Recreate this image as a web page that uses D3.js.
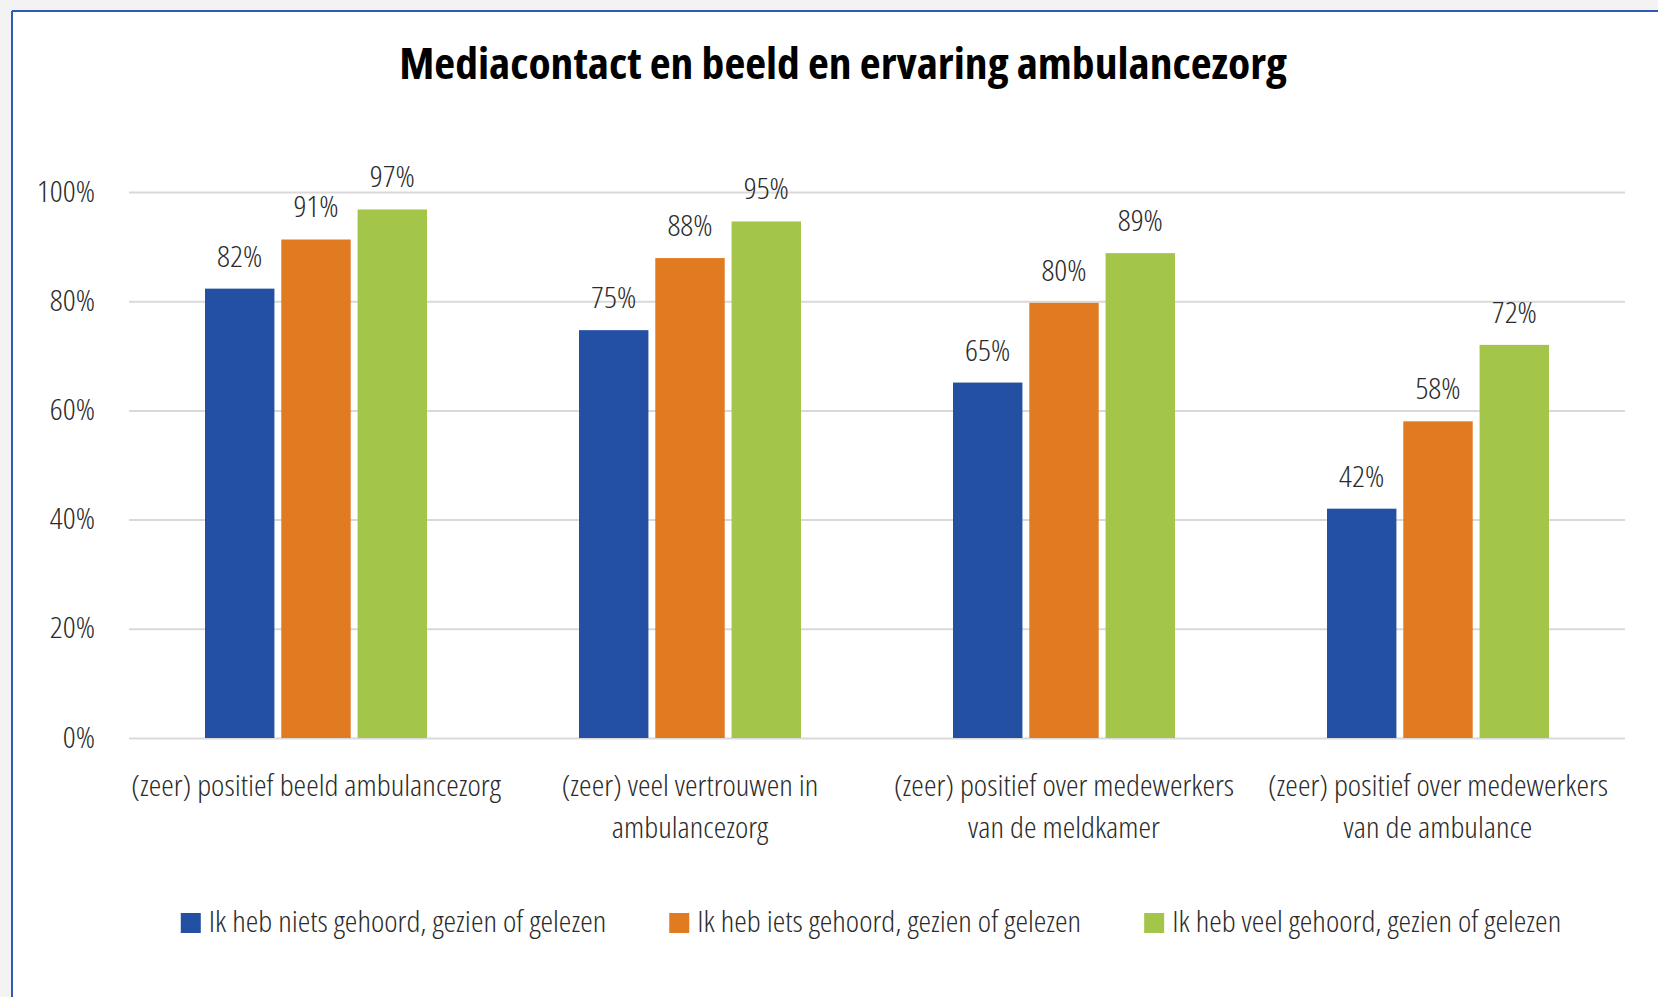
<!DOCTYPE html>
<html>
<head>
<meta charset="utf-8">
<script src="https://cdn.jsdelivr.net/npm/d3@7"></script>
<style>
  html, body { margin: 0; padding: 0; background: #f3f3f3; }
  svg { display: block; }
  text { font-family: "Open Sans", "Noto Sans", sans-serif; font-stretch: 75%; }
</style>
</head>
<body>
<svg id="chart" width="1658" height="997"></svg>
<script>
const title = "Mediacontact en beeld en ervaring ambulancezorg";
const categories = [
  ["(zeer) positief beeld ambulancezorg"],
  ["(zeer) veel vertrouwen in", "ambulancezorg"],
  ["(zeer) positief over medewerkers", "van de meldkamer"],
  ["(zeer) positief over medewerkers", "van de ambulance"]
];
const seriesNames = [
  "Ik heb niets gehoord, gezien of gelezen",
  "Ik heb iets gehoord, gezien of gelezen",
  "Ik heb veel gehoord, gezien of gelezen"
];
// values (labels shown rounded)
const seriesNiets = [82.3, 74.7, 65.1, 42.0];
const seriesIets  = [91.3, 87.9, 79.7, 58.0];
const seriesVeel  = [96.8, 94.6, 88.8, 72.0];
const yTicks = [0, 20, 40, 60, 80, 100];
const colors = ["#2350A3", "#E07B22", "#A2C54A"];

const W = 1658, H = 997;
const svg = d3.select("#chart");
const txtColor = "#2b2b2b";

// white card with blue border
svg.append("rect").attr("x", 12).attr("y", 11).attr("width", W - 12).attr("height", H - 11).attr("fill", "#ffffff");
svg.append("line").attr("x1", 12).attr("x2", W).attr("y1", 11).attr("y2", 11).attr("stroke", "#2f5bb5").attr("stroke-width", 2);
svg.append("line").attr("x1", 12).attr("x2", 12).attr("y1", 11).attr("y2", H).attr("stroke", "#2f5bb5").attr("stroke-width", 2);

const plotLeft = 129, plotRight = 1625, plotTop = 192, plotBottom = 738;

const x0 = d3.scaleBand().domain(d3.range(categories.length)).range([plotLeft, plotRight]).paddingInner(0).paddingOuter(0);
const x1 = d3.scaleBand().domain(d3.range(3)).range([0, 222]).paddingInner(0.09).paddingOuter(0);
const y = d3.scaleLinear().domain([0, 100]).range([plotBottom, plotTop]);

svg.append("text").attr("x", 843).attr("y", 79).attr("text-anchor", "middle")
  .attr("font-size", 43).attr("font-weight", 700).attr("fill", "#000").text(title);

// gridlines + y tick labels
const grid = svg.append("g")
  .call(d3.axisLeft(y).tickValues(yTicks).tickSize(-(plotRight - plotLeft)).tickFormat(d => d + "%"))
  .attr("transform", `translate(${plotLeft},0)`);
grid.select(".domain").remove();
grid.selectAll(".tick line").attr("stroke", "#d9d9d9").attr("stroke-width", 2);
grid.selectAll(".tick text").attr("x", -34).attr("dy", null).attr("y", 9)
  .attr("font-size", 30).attr("font-weight", 300).attr("fill", txtColor);
grid.attr("font-family", null).attr("font-size", null);

const data = categories.map((c, i) => ({ i, values: [seriesNiets[i], seriesIets[i], seriesVeel[i]] }));

const groups = svg.append("g").selectAll("g").data(data).join("g")
  .attr("transform", d => `translate(${x0(d.i) + (x0.bandwidth() - 222) / 2},0)`);

groups.selectAll("rect").data(d => d.values.map((v, k) => ({ v, k }))).join("rect")
  .attr("x", d => x1(d.k)).attr("width", x1.bandwidth())
  .attr("y", d => y(d.v)).attr("height", d => y(0) - y(d.v))
  .attr("fill", d => colors[d.k]);

groups.selectAll("text.lbl").data(d => d.values.map((v, k) => ({ v, k }))).join("text")
  .attr("class", "lbl")
  .attr("x", d => x1(d.k) + x1.bandwidth() / 2).attr("y", d => y(d.v) - 22)
  .attr("text-anchor", "middle").attr("font-size", 30).attr("font-weight", 300).attr("fill", txtColor)
  .text(d => Math.round(d.v) + "%");

// category labels
const cat = svg.append("g").selectAll("text").data(categories).join("text")
  .attr("x", (d, i) => x0(i) + x0.bandwidth() / 2).attr("y", 796)
  .attr("text-anchor", "middle").attr("font-size", 30).attr("font-weight", 300).attr("fill", txtColor);
cat.selectAll("tspan").data(d => d).join("tspan")
  .attr("x", function() { return this.parentNode.getAttribute("x"); })
  .attr("dy", (d, j) => j === 0 ? 0 : 42).text(d => d);

// legend
const leg = svg.append("g");
const items = leg.selectAll("g").data(seriesNames).join("g");
items.append("rect").attr("width", 20).attr("height", 20).attr("y", 913).attr("fill", (d, k) => colors[k]);
items.append("text").attr("x", 28).attr("y", 932).attr("font-size", 30).attr("font-weight", 300).attr("fill", txtColor).text(d => d);

// width adjustment: slight horizontal widening of the condensed face (or strong narrowing if no condensed face exists)
function adjustWidth() {
  const t1 = svg.append("text").attr("font-size", 30).attr("font-weight", 300).text("gehoord gezien gelezen");
  const wc = t1.node().getComputedTextLength();
  t1.style("font-stretch", "100%");
  const wn = t1.node().getComputedTextLength();
  t1.remove();
  const s = (wc / wn > 0.9) ? 0.83 : 1.06;
  svg.selectAll("text").each(function() {
    const el = d3.select(this);
    const tx = +el.attr("x") || 0;
    const prev = el.attr("transform") || "";
    el.attr("transform", `${prev} translate(${tx},0) scale(${s},1) translate(${-tx},0)`);
  });
  return s;
}
const sc = adjustWidth();

// layout legend items, centred
let widths = [];
items.each(function() { widths.push(d3.select(this).select("text").node().getComputedTextLength() * sc); });
const gap = 63;
const total = d3.sum(widths.map(w => 28 + w)) + gap * (widths.length - 1);
let cx = 871 - total / 2;
items.each(function(d, k) {
  d3.select(this).attr("transform", `translate(${cx},0)`);
  cx += 28 + widths[k] + gap;
});
</script>
</body>
</html>
